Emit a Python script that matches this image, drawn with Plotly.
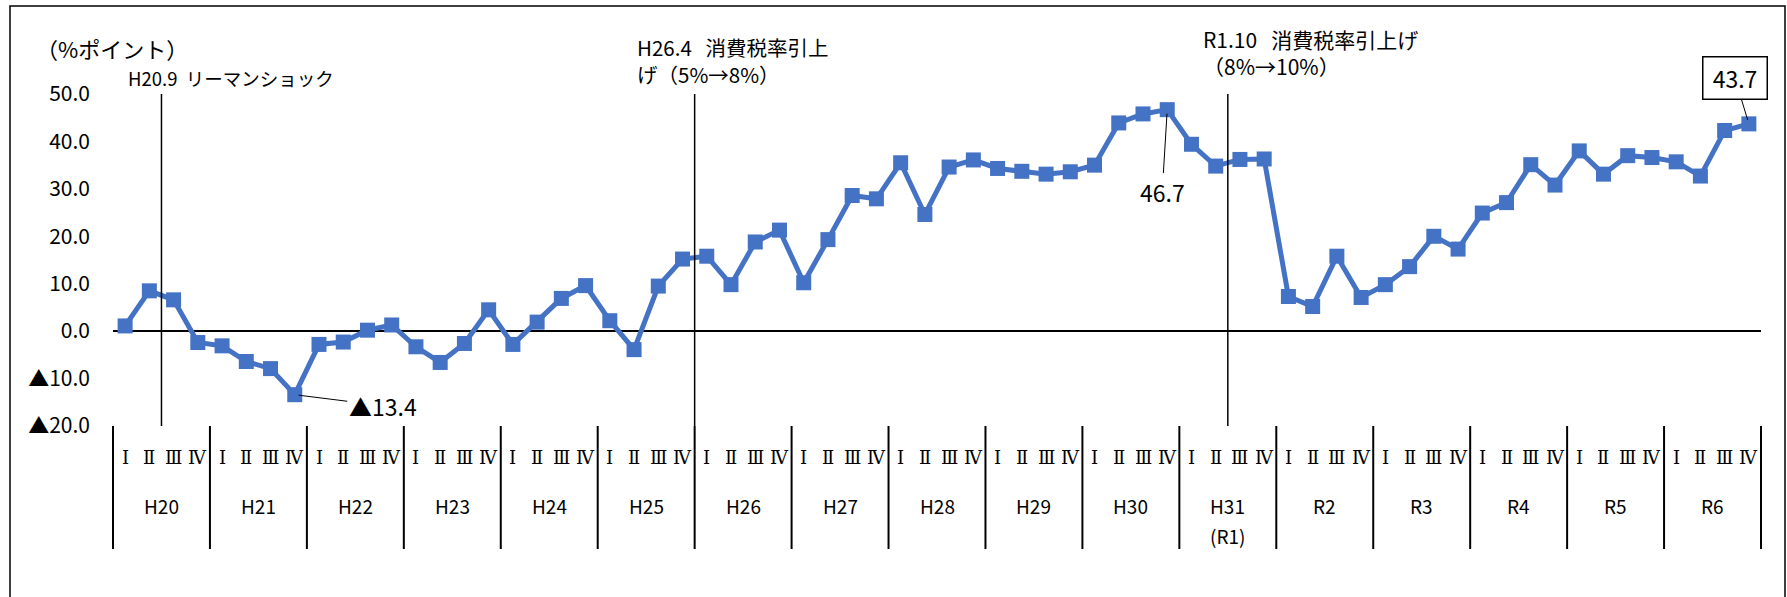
import plotly.graph_objects as go

# ---------------- data ----------------
years = ["H20", "H21", "H22", "H23", "H24", "H25", "H26", "H27", "H28",
         "H29", "H30", "H31", "R2", "R3", "R4", "R5", "R6"]
year_sublabels = {"H31": "(R1)"}
quarters = ["Ⅰ", "Ⅱ", "Ⅲ", "Ⅳ"]

values = [
    1.1, 8.5, 6.6, -2.4,      # H20
    -3.1, -6.4, -7.9, -13.4,  # H21
    -2.8, -2.3, 0.2, 1.3,     # H22
    -3.3, -6.6, -2.6, 4.5,    # H23
    -2.8, 1.9, 6.9, 9.6,      # H24
    2.2, -3.9, 9.5, 15.2,     # H25
    15.8, 9.8, 18.8, 21.3,    # H26
    10.2, 19.3, 28.6, 27.9,   # H27
    35.5, 24.6, 34.6, 36.1,   # H28
    34.3, 33.7, 33.1, 33.6,   # H29
    35.0, 43.9, 45.8, 46.7,   # H30
    39.4, 34.8, 36.2, 36.3,   # H31
    7.3, 5.2, 15.8, 7.1,      # R2
    9.8, 13.6, 20.0, 17.3,    # R3
    24.9, 27.1, 35.1, 30.8,   # R4
    38.0, 33.1, 37.0, 36.6,   # R5
    35.7, 32.7, 42.3, 43.7,   # R6
]

ytick_vals = [50, 40, 30, 20, 10, 0, -10, -20]
ytick_text = ["50.0", "40.0", "30.0", "20.0", "10.0", "0.0", "▲10.0", "▲20.0"]

# events: vertical line drawn after the given quarter index
event_after_q = [1, 23, 45]
event_labels = ["H20.9\u00a0\u00a0リーマンショック",
                "H26.4\u00a0\u00a0\u00a0消費税率引上<br>げ（5%→8%）",
                "R1.10\u00a0\u00a0\u00a0消費税率引上げ<br>（8%→10%）"]

# callouts: (quarter index, text)
callout_min = (7, "▲13.4")
callout_max = (43, "46.7")
callout_last = (len(values) - 1, "43.7")

# ---------------- layout geometry ----------------
W, H = 1787, 597
L, R = 113, 1761   # plot area px
T, B = 94, 426

def px(xp):
    return (xp - L) / (R - L)

def py(yp):
    return (B - yp) / (B - T)

FONT = "Noto Sans CJK JP"
BLUE = "#4472C4"
n = len(values)
xs = list(range(n))

fig = go.Figure()
fig.add_trace(go.Scatter(
    x=xs, y=values, mode="lines+markers",
    line=dict(color=BLUE, width=5),
    marker=dict(symbol="square", size=15, color=BLUE),
    hoverinfo="skip", showlegend=False, cliponaxis=False,
))

shapes = []
annotations = []

# outer frame
shapes.append(dict(type="rect", xref="paper", yref="paper",
                   x0=px(10), x1=px(1785), y0=py(605), y1=py(6),
                   line=dict(color="black", width=1.5), layer="below"))

# event lines
for q in event_after_q:
    shapes.append(dict(type="line", xref="x", yref="y",
                       x0=q + 0.5, x1=q + 0.5, y0=-20, y1=50,
                       line=dict(color="black", width=1.5)))

# category axis separators
for k in range(len(years) + 1):
    xf = (k * len(quarters)) / n
    shapes.append(dict(type="line", xref="paper", yref="paper",
                       x0=xf, x1=xf, y0=py(426), y1=py(549),
                       line=dict(color="black", width=2)))

# quarter labels & year labels
for yi, yr in enumerate(years):
    for qi, ql in enumerate(quarters):
        idx = yi * len(quarters) + qi
        annotations.append(dict(xref="x", yref="paper", x=idx, y=py(457),
                                text=ql, showarrow=False,
                                font=dict(family="DejaVu Serif", size=18, color="black"),
                                xanchor="center", yanchor="middle"))
    xc = yi * len(quarters) + (len(quarters) - 1) / 2
    annotations.append(dict(xref="x", yref="paper", x=xc, y=py(505),
                            text=yr, showarrow=False,
                            font=dict(family=FONT, size=19, color="black"),
                            xanchor="center", yanchor="middle"))
    if yr in year_sublabels:
        annotations.append(dict(xref="x", yref="paper", x=xc, y=py(535),
                                text=year_sublabels[yr], showarrow=False,
                                font=dict(family=FONT, size=19, color="black"),
                                xanchor="center", yanchor="middle"))

# unit label
annotations.append(dict(xref="paper", yref="paper", x=px(34), y=py(48),
                        text="（%ポイント）", showarrow=False,
                        font=dict(family=FONT, size=22, color="black"),
                        xanchor="left", yanchor="middle"))

# event labels
event_pos = [(126, 78, 18.5), (635, 60.5, 20.5), (1201, 52.5, 21)]
for lab, (xl, yl, fs) in zip(event_labels, event_pos):
    annotations.append(dict(xref="paper", yref="paper", x=px(xl), y=py(yl),
                            text=lab, showarrow=False, align="left",
                            font=dict(family=FONT, size=fs, color="black"),
                            xanchor="left", yanchor="middle"))

# callouts
qi, txt = callout_min
annotations.append(dict(xref="x", yref="y", x=qi, y=values[qi], text=txt,
                        showarrow=True, arrowhead=0, arrowwidth=1, arrowcolor="black",
                        ax=88, ay=11, standoff=4,
                        font=dict(family=FONT, size=23, color="black")))
qi, txt = callout_max
annotations.append(dict(xref="x", yref="y", x=qi, y=values[qi], text=txt,
                        showarrow=True, arrowhead=0, arrowwidth=1, arrowcolor="black",
                        ax=-5, ay=82, standoff=4,
                        font=dict(family=FONT, size=23, color="black")))
qi, txt = callout_last
annotations.append(dict(xref="x", yref="y", x=qi, y=values[qi], text=txt,
                        showarrow=True, arrowhead=0, arrowwidth=1, arrowcolor="black",
                        ax=-14, ay=-46, standoff=4,
                        bordercolor="black", borderwidth=1.5, borderpad=1.5,
                        bgcolor="white", width=60, height=38,
                        font=dict(family=FONT, size=23, color="black")))

fig.update_layout(
    width=W, height=H,
    margin=dict(l=L, r=W - R, t=T, b=H - B, pad=0),
    paper_bgcolor="white", plot_bgcolor="white",
    font=dict(family=FONT, color="black"),
    xaxis=dict(range=[-0.5, n - 0.5], showgrid=False, zeroline=False,
               showline=False, showticklabels=False, ticks=""),
    yaxis=dict(range=[-20, 50], tickvals=ytick_vals, ticktext=ytick_text,
               showgrid=False, zeroline=True, zerolinecolor="black",
               zerolinewidth=2, showline=False, ticks="",
               ticklabelstandoff=22,
               tickfont=dict(family=FONT, size=21, color="black")),
    shapes=shapes, annotations=annotations,
)

fig.write_html("out.html", config={"displayModeBar": False},
               post_script="document.body.style.margin='0';document.body.style.overflow='hidden';")
